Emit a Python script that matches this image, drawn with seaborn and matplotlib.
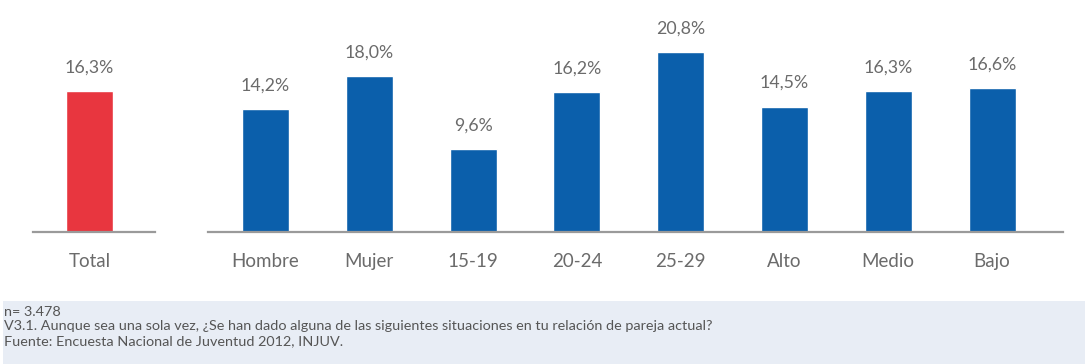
import matplotlib
matplotlib.use("Agg")
import matplotlib.pyplot as plt
from matplotlib.patches import Rectangle
import pandas as pd
import seaborn as sns

# Data
total_label = ["Total"]
total_value = [16.3]
groups = ["Hombre", "Mujer", "15-19", "20-24", "25-29", "Alto", "Medio", "Bajo"]
group_values = [14.2, 18.0, 9.6, 16.2, 20.8, 14.5, 16.3, 16.6]
footer_lines = [
    "n= 3.478",
    "V3.1. Aunque sea una sola vez, ¿Se han dado alguna de las siguientes situaciones en tu relación de pareja actual?",
    "Fuente: Encuesta Nacional de Juventud 2012, INJUV.",
]

sns.set_theme(style="white")
plt.rcParams["font.family"] = ["Lato", "DejaVu Sans"]

RED = "#e8363f"
BLUE = "#0b5fab"
TEXT = "#6b6b6b"
AXIS = "#9a9a9a"

W, H = 1085, 364
fig = plt.figure(figsize=(W / 100, H / 100), dpi=100)
fig.patch.set_facecolor("white")

base_y = 1 - 232 / H
top_y = 1 - 24.4 / H
ax_h = top_y - base_y
ymax = 24.0

ax_tot = fig.add_axes([33 / W, base_y, (155 - 33) / W, ax_h])
ax_grp = fig.add_axes([208 / W, base_y, (1063 - 208) / W, ax_h])

df_tot = pd.DataFrame({"cat": total_label, "val": total_value})
df_grp = pd.DataFrame({"cat": groups, "val": group_values})

sns.barplot(data=df_tot, x="cat", y="val", color=RED, saturation=1,
            width=0.453, ax=ax_tot)
sns.barplot(data=df_grp, x="cat", y="val", color=BLUE, saturation=1,
            width=0.453, ax=ax_grp)

ax_tot.set_xlim(-0.544, 0.631)
ax_grp.set_xlim(-0.554, 7.684)

for ax, vals in ((ax_tot, total_value), (ax_grp, group_values)):
    ax.set_ylim(0, ymax)
    ax.set_xlabel("")
    ax.set_ylabel("")
    ax.set_yticks([])
    ax.set_facecolor("none")
    for side in ("top", "right", "left"):
        ax.spines[side].set_visible(False)
    ax.spines["bottom"].set_color(AXIS)
    ax.spines["bottom"].set_linewidth(1.6)
    ax.tick_params(axis="x", length=0, pad=15, labelsize=13.5, labelcolor=TEXT)
    for i, v in enumerate(vals):
        label = f"{v:.1f}".replace(".", ",") + "%"
        ax.annotate(label, (i, v), xytext=(0, 17), textcoords="offset points",
                    ha="center", va="center", fontsize=12.8, color=TEXT)

# Footer box with sample size, question and source
fig.patches.append(Rectangle((3 / W, 0), 1 - 3 / W, (H - 301) / H,
                             transform=fig.transFigure, facecolor="#e8edf5",
                             edgecolor="none", zorder=0))
for k, line in enumerate(footer_lines):
    fig.text(4 / W, 1 - (312 + 14.5 * k) / H, line, ha="left", va="center",
             fontsize=10.4, color="#555555")

fig.savefig("out.png", dpi=100, facecolor="white")
